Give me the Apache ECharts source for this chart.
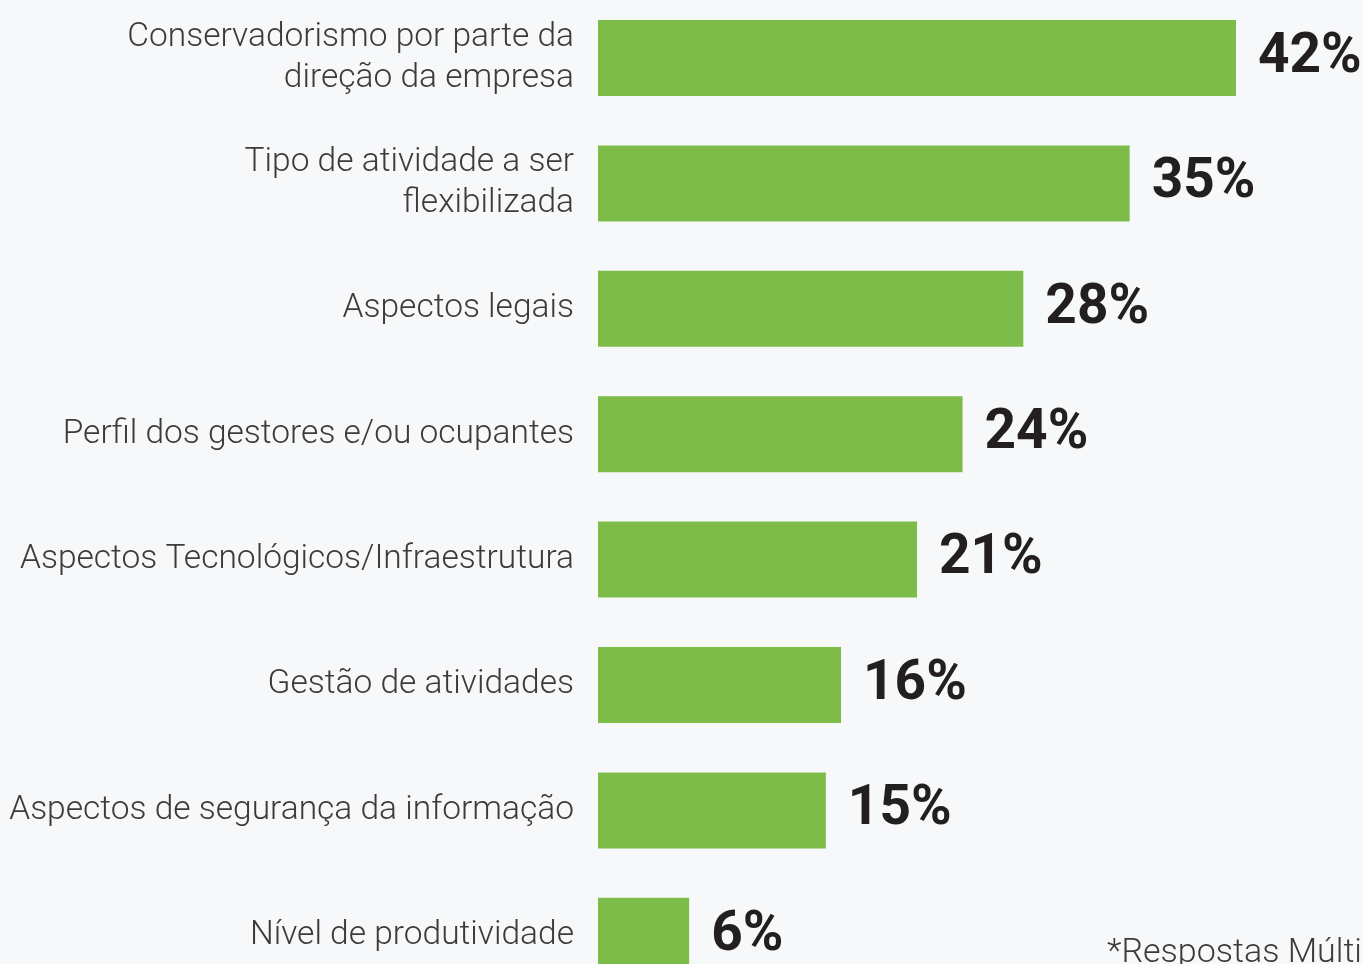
<!DOCTYPE html>
<html><head><meta charset="utf-8">
<script src="https://cdn.jsdelivr.net/npm/echarts@6/dist/echarts.min.js"></script>
<style>html,body{margin:0;padding:0;background:#f7f8fa;}#c{width:1363px;height:964px;}</style>
</head><body><div id="c"></div>
<script>
const categories = [
  "Conservadorismo por parte da\ndireção da empresa",
  "Tipo de atividade a ser\nflexibilizada",
  "Aspectos legais",
  "Perfil dos gestores e/ou ocupantes",
  "Aspectos Tecnológicos/Infraestrutura",
  "Gestão de atividades",
  "Aspectos de segurança da informação",
  "Nível de produtividade"
];
const values = [42, 35, 28, 24, 21, 16, 15, 6];
const footnote = "*Respostas Múltiplas";

const chart = echarts.init(document.getElementById('c'));
chart.setOption({
  backgroundColor: '#f7f8fa',
  animation: false,
  grid: { left: 598, top: -4.7, width: 759.5, height: 1003.2, containLabel: false, outerBoundsMode: 'none' },
  xAxis: { type: 'value', min: 0, max: 50, show: false },
  yAxis: {
    type: 'category', data: categories, inverse: true,
    axisLine: { show: false }, axisTick: { show: false }, splitLine: { show: false },
    axisLabel: {
      margin: 24, color: '#3b3b3b', fontFamily: "Roboto, sans-serif",
      fontWeight: 300, fontSize: 33.5, lineHeight: 41, align: 'right', padding: [6, 0, 0, 0]
    }
  },
  series: [{
    type: 'bar', data: values, barWidth: 76,
    itemStyle: { color: '#7dbc48' },
    label: {
      show: true, position: 'right', distance: 22, formatter: '{c}%',
      color: '#231f20', fontFamily: "Roboto, sans-serif",
      fontWeight: 'bold', fontSize: 55, padding: [6, 0, 0, 0]
    }
  }],
  graphic: [{
    type: 'text', left: 1107, top: 936,
    style: { text: footnote, fill: '#3b3b3b', fontSize: 34, fontWeight: 300, fontFamily: "Roboto, sans-serif" }
  }]
});
</script></body></html>
